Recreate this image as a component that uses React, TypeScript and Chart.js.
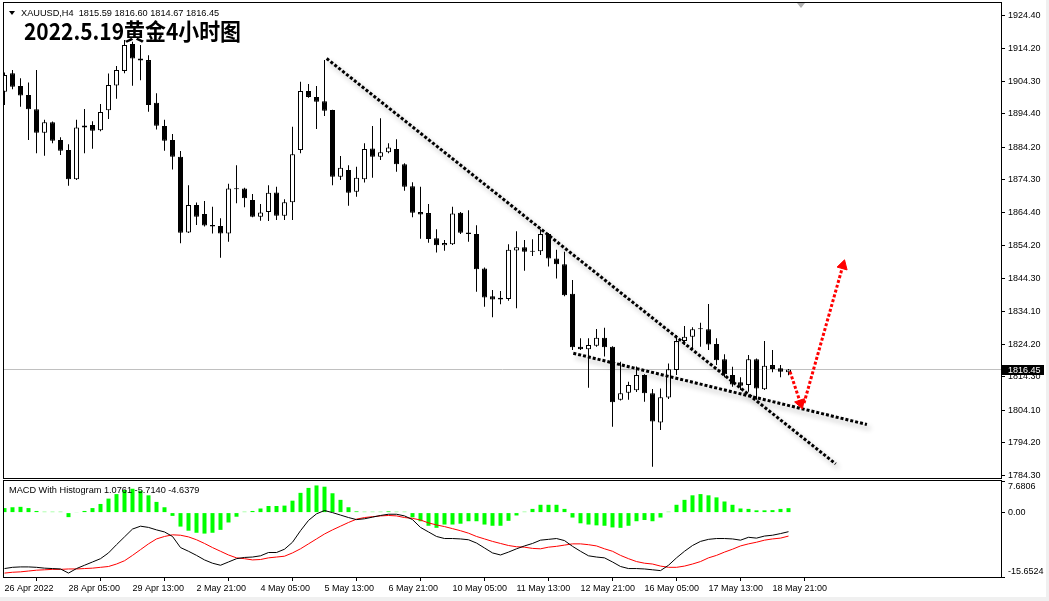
import React, { useEffect, useRef } from "react";
import { Chart, registerables } from "chart.js";

Chart.register(...registerables);

// ---------- price data (XAUUSD H4) ----------
const opens = [
  1901.1, 1906.7, 1902.8, 1900.1, 1895.7, 1888.6, 1891.8, 1886.4, 1883.3, 1874.4,
  1890.2, 1890.9, 1889.3, 1895.4, 1903.0, 1907.4, 1915.6, 1911.2, 1910.7, 1897.7,
  1890.6, 1886.4, 1881.3, 1858.2, 1866.6, 1863.8, 1860.5, 1860.2, 1857.9, 1871.4,
  1871.6, 1868.1, 1863.0, 1864.4, 1870.4, 1863.3, 1867.4, 1883.3, 1901.3, 1899.5,
  1898.2, 1895.5, 1875.2, 1877.2, 1870.6, 1874.4, 1883.8, 1881.3, 1882.6, 1883.6,
  1879.0, 1872.3, 1864.4, 1864.1, 1856.4, 1854.3, 1854.6, 1864.2, 1858.2, 1857.7,
  1847.2, 1838.8, 1838.3, 1837.9, 1852.7, 1853.7, 1852.3, 1852.5, 1857.7, 1850.3,
  1848.5, 1839.5, 1823.4, 1822.6, 1823.7, 1826.1, 1823.4, 1807.2, 1809.4, 1810.1,
  1814.8, 1809.2, 1800.3, 1807.9, 1816.3, 1825.1, 1826.4, 1828.7, 1828.7, 1824.2,
  1819.6, 1814.8, 1812.6, 1811.7, 1819.6, 1810.4, 1817.8, 1816.8, 1815.59,
];
const highs = [
  1906.9, 1907.7, 1905.2, 1903.9, 1907.7, 1892.5, 1892.0, 1887.2, 1885.1, 1892.5,
  1895.8, 1892.1, 1897.3, 1906.6, 1908.9, 1916.8, 1916.3, 1915.3, 1912.2, 1900.6,
  1892.5, 1888.2, 1883.0, 1872.6, 1867.3, 1867.8, 1866.0, 1862.5, 1873.0, 1878.7,
  1871.8, 1869.9, 1866.9, 1872.6, 1872.1, 1868.3, 1890.4, 1904.1, 1903.4, 1902.8,
  1910.7, 1895.6, 1881.5, 1878.7, 1878.2, 1885.4, 1890.6, 1893.0, 1885.4, 1886.6,
  1879.3, 1873.5, 1872.1, 1866.9, 1859.2, 1855.9, 1866.0, 1864.4, 1865.0, 1860.4,
  1847.5, 1840.7, 1840.4, 1854.6, 1858.6, 1855.9, 1856.1, 1859.2, 1858.0, 1852.9,
  1852.3, 1843.7, 1826.0, 1826.0, 1828.8, 1829.2, 1823.5, 1818.8, 1812.7, 1817.4,
  1815.0, 1810.5, 1810.7, 1818.3, 1827.0, 1829.7, 1829.3, 1830.7, 1836.4, 1826.0,
  1821.1, 1817.3, 1814.1, 1820.9, 1819.8, 1825.1, 1822.4, 1817.8, 1816.6,
];
const lows = [
  1897.0, 1901.8, 1896.5, 1886.4, 1882.3, 1881.6, 1885.4, 1881.8, 1872.4, 1874.2,
  1882.3, 1883.7, 1889.0, 1892.8, 1898.9, 1906.7, 1902.9, 1904.6, 1895.0, 1889.6,
  1883.1, 1877.4, 1854.9, 1858.0, 1860.5, 1860.0, 1857.9, 1850.5, 1855.4, 1867.1,
  1865.9, 1862.8, 1861.8, 1861.7, 1862.0, 1862.0, 1862.0, 1882.3, 1899.2, 1889.7,
  1893.7, 1872.6, 1874.2, 1866.3, 1869.1, 1873.4, 1874.9, 1880.3, 1882.3, 1876.7,
  1870.9, 1862.8, 1856.3, 1855.1, 1852.1, 1852.6, 1854.4, 1857.7, 1855.4, 1840.1,
  1835.6, 1832.4, 1836.3, 1837.4, 1835.1, 1846.5, 1851.0, 1851.3, 1847.8, 1844.2,
  1838.8, 1822.4, 1822.4, 1810.9, 1823.4, 1820.4, 1799.0, 1807.0, 1807.2, 1809.6,
  1806.6, 1786.8, 1798.0, 1807.5, 1814.8, 1823.9, 1822.4, 1823.4, 1822.4, 1817.8,
  1814.1, 1811.2, 1810.2, 1809.7, 1807.2, 1810.2, 1815.6, 1814.1, 1814.67,
];
const closes = [
  1906.2, 1902.6, 1899.9, 1895.7, 1888.6, 1891.8, 1886.1, 1883.1, 1874.4, 1890.2,
  1890.8, 1889.2, 1894.9, 1903.1, 1907.7, 1915.3, 1911.2, 1910.6, 1897.0, 1890.7,
  1886.1, 1881.3, 1858.1, 1866.6, 1863.0, 1860.3, 1860.0, 1857.9, 1871.6, 1871.6,
  1868.6, 1863.0, 1864.3, 1870.3, 1863.3, 1867.4, 1882.0, 1901.3, 1899.5, 1898.0,
  1895.3, 1875.2, 1877.9, 1870.3, 1874.9, 1883.6, 1881.3, 1882.6, 1884.1, 1879.0,
  1872.1, 1864.2, 1863.7, 1856.2, 1854.3, 1855.0, 1864.0, 1858.1, 1857.7, 1847.0,
  1838.4, 1837.8, 1837.8, 1852.9, 1853.7, 1852.3, 1852.5, 1857.7, 1850.3, 1848.5,
  1839.1, 1823.2, 1822.6, 1823.9, 1826.1, 1823.2, 1806.5, 1809.2, 1811.7, 1814.8,
  1809.2, 1800.6, 1808.0, 1816.5, 1825.1, 1826.4, 1828.7, 1828.9, 1824.1, 1819.3,
  1815.0, 1811.9, 1811.5, 1819.6, 1810.7, 1817.6, 1816.6, 1815.8, 1816.45,
];

// ---------- MACD With Histogram ----------
const macdMain = [
  -13.6, -13.3, -13.2, -13.2, -13.3, -13.5, -13.6, -13.7, -14.7, -13.6,
  -12.8, -12.0, -11.2, -9.8, -7.8, -5.9, -4.0, -3.3, -3.6, -4.2,
  -4.7, -5.8, -8.5, -9.4, -10.4, -11.5, -12.3, -12.8, -12.0, -11.2,
  -10.9, -10.8, -10.5, -9.7, -9.7, -8.9, -7.2, -4.4, -1.9, -0.3,
  0.5, 0.0, -0.6, -1.2, -1.7, -1.5, -1.1, -0.7, -0.4, -0.4,
  -0.8, -1.7, -3.6, -4.7, -5.8, -6.3, -6.3, -6.4, -6.6, -7.4,
  -8.6, -9.8, -10.3, -9.6, -8.8, -8.1, -7.5, -6.7, -6.5, -6.3,
  -6.8, -8.2, -9.4, -10.5, -10.8, -11.0, -12.0, -13.1, -13.6, -13.6,
  -13.7, -13.9, -14.1, -12.8, -11.0, -9.4, -8.0, -7.0, -6.5, -6.3,
  -6.3, -6.4, -6.7, -6.0, -6.2, -5.7, -5.5, -5.1, -4.64,
];
const macdSignal = [
  -14.7, -14.5, -14.4, -14.2, -14.0, -13.9, -13.8, -13.8, -13.7, -13.7,
  -13.6, -13.5, -13.3, -13.1, -12.5, -11.7, -10.4, -9.0, -7.6, -6.4,
  -5.8, -5.4, -5.5, -5.9, -6.6, -7.5, -8.5, -9.4, -10.3, -11.0,
  -11.2, -11.5, -11.4, -11.0, -10.8, -10.6, -9.8, -8.8, -7.6, -6.4,
  -5.2, -4.2, -3.3, -2.4, -1.6, -1.2, -1.0, -0.8, -0.7, -0.8,
  -1.2, -1.4, -1.8, -2.5, -3.0, -3.4, -3.9, -4.4, -5.0, -5.8,
  -6.4, -7.0, -7.5, -8.0, -8.3, -8.4, -8.7, -8.8, -8.4, -8.2,
  -7.9, -7.6, -7.6, -7.8, -8.1, -8.8, -9.4, -10.4, -11.2, -11.9,
  -12.3, -12.5, -13.0, -13.3, -13.3, -13.0, -12.5, -11.9, -11.0, -10.4,
  -9.6, -8.9, -8.1, -7.6, -7.2, -6.7, -6.4, -6.2, -5.71,
];
const macdHist = [
  1.1, 1.3, 1.4, 1.1, 0.4, 0.2, 0.2, 0.2, -1.1, 0.1,
  0.4, 1.1, 2.1, 3.4, 4.5, 5.5, 5.8, 5.3, 4.2, 2.6,
  1.3, -0.8, -3.4, -4.4, -4.9, -5.1, -4.9, -4.2, -2.4, -1.0,
  0.2, 0.4, 1.0, 1.6, 1.6, 1.7, 2.9, 4.8, 6.0, 6.6,
  6.3, 4.7, 3.1, 1.3, 0.3, 0.2, 0.2, 0.2, 0.3, 0.2,
  0.2, -1.15, -2.1, -3.2, -3.7, -2.9, -2.9, -2.7, -2.1, -2.1,
  -2.9, -3.2, -3.2, -2.0, -0.7, 0.2, 0.9, 1.9, 1.9, 1.9,
  0.9, -1.2, -2.6, -2.9, -3.1, -3.2, -3.6, -3.7, -3.2, -2.1,
  -1.8, -2.1, -1.2, 0.2, 1.9, 3.1, 4.2, 4.5, 4.2, 3.7,
  2.7, 1.9, 1.0, 0.9, 0.55, 0.55, 0.6, 0.9, 1.08,
];

// ---------- axes ----------
const priceTicks = [
  1924.4, 1914.2, 1904.3, 1894.4, 1884.2, 1874.3, 1864.4, 1854.2,
  1844.3, 1834.1, 1824.2, 1814.3, 1804.1, 1794.2, 1784.3,
];
const priceRange = [1783.4, 1928.1];
const barRange = [-0.0625, 124.5625];
const timeTickIndex = [0, 8, 16, 24, 32, 40, 48, 56, 64, 72, 80, 88, 96];
const timeLabels = [
  "26 Apr 2022", "28 Apr 05:00", "29 Apr 13:00", "2 May 21:00", "4 May 05:00",
  "5 May 13:00", "6 May 21:00", "10 May 05:00", "11 May 13:00", "12 May 21:00",
  "16 May 05:00", "17 May 13:00", "18 May 21:00",
];
const macdRange = [-15.6524, 7.6806];
const macdTicks = [7.6806, 0, -15.6524];
const macdTickLabels = ["7.6806", "0.00", "-15.6524"];
const lastPrice = 1816.45;

// ---------- drawn objects (bar index, price) ----------
const trendLineA = [{ x: 40.27, y: 1911.2 }, { x: 103.9, y: 1787.7 }];
const trendLineB = [{ x: 71.1, y: 1821.4 }, { x: 107.8, y: 1799.7 }];
const arrowDown = [{ x: 98.19, y: 1815.8 }, { x: 99.5, y: 1806.2 }];
const arrowUp = [{ x: 99.94, y: 1806.2 }, { x: 104.8, y: 1848.1 }];

const AXIS_FONT = { family: "'Liberation Sans', Arial, sans-serif", size: 9 };

const framePlugin = {
  id: "mtFrame",
  beforeDraw(chart: any) {
    const ctx = chart.ctx;
    ctx.save();
    ctx.fillStyle = "#ffffff";
    ctx.fillRect(0, 0, chart.width, chart.height);
    ctx.restore();
  },
  afterDraw(chart: any) {
    const { left, top, right, bottom } = chart.chartArea;
    const ctx = chart.ctx;
    ctx.save();
    ctx.strokeStyle = "#000000";
    ctx.lineWidth = 1;
    ctx.strokeRect(left - 0.5, top - 0.5, right - left + 1, bottom - top + 1);
    ctx.restore();
  },
};

const shadowPlugin = {
  id: "trendShadow",
  beforeDatasetDraw(chart: any, args: any) {
    const ds = chart.data.datasets[args.index];
    if (ds && ds.label && ds.label.startsWith("trend")) {
      const ctx = chart.ctx;
      ctx.save();
      ctx.shadowColor = "rgba(0,0,0,0.30)";
      ctx.shadowBlur = 5;
      ctx.shadowOffsetX = 3;
      ctx.shadowOffsetY = 4;
    }
  },
  afterDatasetDraw(chart: any, args: any) {
    const ds = chart.data.datasets[args.index];
    if (ds && ds.label && ds.label.startsWith("trend")) {
      chart.ctx.restore();
    }
  },
};

const priceBoxPlugin = {
  id: "priceBox",
  afterDraw(chart: any) {
    const ctx = chart.ctx;
    const y = Math.round(chart.scales.y.getPixelForValue(lastPrice));
    const x0 = chart.chartArea.right + 1;
    ctx.save();
    ctx.fillStyle = "#000000";
    ctx.fillRect(x0, y - 5, 42, 10);
    ctx.fillStyle = "#ffffff";
    ctx.font = "9px 'Liberation Sans', Arial, sans-serif";
    ctx.textBaseline = "middle";
    ctx.textAlign = "left";
    ctx.fillText(lastPrice.toFixed(2), x0 + 6, y + 0.5);
    ctx.restore();
  },
};

function arrowRotation(c: any) {
  const d = c.dataset.data;
  const xs = c.chart.scales.x;
  const ys = c.chart.scales.y;
  const dx = xs.getPixelForValue(d[1].x) - xs.getPixelForValue(d[0].x);
  const dy = ys.getPixelForValue(d[1].y) - ys.getPixelForValue(d[0].y);
  return (Math.atan2(dx, -dy) * 180) / Math.PI;
}

function dotted(label: string, data: any[], color: string, order: number): any {
  return {
    type: "line",
    label,
    data,
    borderColor: color,
    borderWidth: 3,
    borderDash: [3, 2],
    borderCapStyle: "butt",
    pointRadius: 0,
    order,
  };
}

function arrow(label: string, data: any[]): any {
  return {
    ...dotted(label, data, "#ff0000", 1),
    pointRadius: [0, 6],
    pointStyle: "triangle",
    pointBackgroundColor: "#ff0000",
    pointBorderColor: "#ff0000",
    pointBorderWidth: 1,
    pointRotation: arrowRotation,
  };
}

function mainConfig(): any {
  const idx = opens.map((_, i) => i);
  const up = (i: number) => closes[i] >= opens[i];
  return {
    type: "bar",
    data: {
      datasets: [
        {
          type: "line",
          label: "last",
          data: [
            { x: barRange[0], y: lastPrice },
            { x: barRange[1], y: lastPrice },
          ],
          borderColor: "#c0c0c0",
          borderWidth: 1,
          pointRadius: 0,
          order: 10,
        },
        {
          type: "bar",
          label: "wick",
          data: idx.map((i) => ({ x: i, y: [lows[i], highs[i]] })),
          backgroundColor: "#000000",
          borderWidth: 0,
          barThickness: 1,
          inflateAmount: 0,
          order: 6,
        },
        {
          type: "bar",
          label: "body",
          data: idx.map((i) => ({ x: i, y: [opens[i], closes[i]] })),
          backgroundColor: (c: any) => (up(c.dataIndex) ? "#ffffff" : "#000000"),
          borderColor: "#000000",
          borderWidth: 1,
          borderSkipped: false,
          barThickness: 5,
          minBarLength: 1,
          inflateAmount: 0,
          order: 5,
        },
        dotted("trendA", trendLineA, "#000000", 3),
        dotted("trendB", trendLineB, "#000000", 3),
        arrow("arrowDown", arrowDown),
        arrow("arrowUp", arrowUp),
      ],
    },
    options: {
      animation: false,
      responsive: false,
      maintainAspectRatio: false,
      events: [],
      layout: { autoPadding: false, padding: { left: 4, top: 3, right: 0, bottom: 3 } },
      plugins: { legend: { display: false }, tooltip: { enabled: false } },
      scales: {
        x: {
          type: "linear",
          min: barRange[0],
          max: barRange[1],
          offset: false,
          stacked: true,
          display: false,
        },
        y: {
          position: "right",
          min: priceRange[0],
          max: priceRange[1],
          stacked: false,
          afterBuildTicks: (s: any) => {
            s.ticks = priceTicks.map((v) => ({ value: v }));
          },
          afterFit: (s: any) => {
            s.width = 48;
            s.paddingTop = 0;
            s.paddingBottom = 0;
          },
          ticks: {
            callback: (v: any) => Number(v).toFixed(2),
            font: AXIS_FONT,
            color: "#000000",
            padding: 3,
            autoSkip: false,
          },
          grid: { drawOnChartArea: false, drawTicks: true, tickLength: 4, color: "#000000" },
          border: { display: false },
        },
      },
    },
    plugins: [framePlugin, shadowPlugin, priceBoxPlugin],
  };
}

function macdConfig(): any {
  return {
    type: "bar",
    data: {
      datasets: [
        {
          type: "line",
          label: "macd",
          data: macdMain.map((v, i) => ({ x: i, y: v })),
          borderColor: "#000000",
          borderWidth: 1,
          pointRadius: 0,
          order: 1,
        },
        {
          type: "line",
          label: "signal",
          data: macdSignal.map((v, i) => ({ x: i, y: v })),
          borderColor: "#ff0000",
          borderWidth: 1,
          pointRadius: 0,
          order: 2,
        },
        {
          type: "bar",
          label: "hist",
          data: macdHist.map((v, i) => ({ x: i, y: v })),
          backgroundColor: "#00ff00",
          borderWidth: 0,
          barThickness: 4,
          inflateAmount: 0,
          order: 3,
        },
      ],
    },
    options: {
      animation: false,
      responsive: false,
      maintainAspectRatio: false,
      events: [],
      layout: { autoPadding: false, padding: { left: 4, top: 2, right: 0, bottom: 0 } },
      plugins: { legend: { display: false }, tooltip: { enabled: false } },
      scales: {
        x: {
          type: "linear",
          position: "bottom",
          min: barRange[0],
          max: barRange[1],
          offset: false,
          afterBuildTicks: (s: any) => {
            s.ticks = timeTickIndex.map((v) => ({ value: v }));
          },
          afterFit: (s: any) => {
            s.height = 24;
            s.paddingLeft = 0;
            s.paddingRight = 0;
          },
          ticks: {
            callback: (_v: any, i: number) => timeLabels[i],
            align: "start",
            maxRotation: 0,
            minRotation: 0,
            autoSkip: false,
            font: AXIS_FONT,
            color: "#000000",
            padding: 2,
          },
          grid: { drawOnChartArea: false, drawTicks: true, tickLength: 4, color: "#000000" },
          border: { display: false },
        },
        y: {
          position: "right",
          min: macdRange[0],
          max: macdRange[1],
          afterBuildTicks: (s: any) => {
            s.ticks = macdTicks.map((v) => ({ value: v }));
          },
          afterFit: (s: any) => {
            s.width = 48;
            s.paddingTop = 0;
            s.paddingBottom = 0;
          },
          ticks: {
            callback: (v: any, i: number) => {
              const t = macdTickLabels[i];
              if (v === macdRange[1]) return ["", t];
              if (v === macdRange[0]) return [t, ""];
              return t;
            },
            font: AXIS_FONT,
            color: "#000000",
            padding: 3,
            autoSkip: false,
          },
          grid: { drawOnChartArea: false, drawTicks: true, tickLength: 4, color: "#000000" },
          border: { display: false },
        },
      },
    },
    plugins: [framePlugin],
  };
}

export default function App() {
  const mainRef = useRef<HTMLCanvasElement>(null);
  const macdRef = useRef<HTMLCanvasElement>(null);

  useEffect(() => {
    const main = new Chart(mainRef.current as HTMLCanvasElement, mainConfig());
    const macd = new Chart(macdRef.current as HTMLCanvasElement, macdConfig());
    return () => {
      main.destroy();
      macd.destroy();
    };
  }, []);

  const small: React.CSSProperties = {
    position: "absolute",
    fontFamily: "'Liberation Sans', Arial, sans-serif",
    fontSize: 9.2,
    lineHeight: "9px",
    color: "#000",
    whiteSpace: "pre",
  };

  return (
    <div
      style={{
        position: "fixed",
        left: 0,
        top: 0,
        width: 1049,
        height: 601,
        background: "#ffffff",
        overflow: "hidden",
      }}
    >
      <canvas
        ref={mainRef}
        width={1049}
        height={481}
        style={{ position: "absolute", left: 0, top: 0, width: 1049, height: 481 }}
      />
      <canvas
        ref={macdRef}
        width={1049}
        height={122}
        style={{ position: "absolute", left: 0, top: 479, width: 1049, height: 122 }}
      />
      <div
        style={{
          position: "absolute",
          left: 9,
          top: 11,
          width: 0,
          height: 0,
          borderLeft: "3px solid transparent",
          borderRight: "3px solid transparent",
          borderTop: "4px solid #000",
        }}
      />
      <div
        style={{
          position: "absolute",
          left: 797,
          top: 3,
          width: 0,
          height: 0,
          borderLeft: "4px solid transparent",
          borderRight: "4px solid transparent",
          borderTop: "5px solid #b0b0b0",
        }}
      />
      <div style={{ ...small, left: 21, top: 9 }}>XAUUSD,H4  1815.59 1816.60 1814.67 1816.45</div>
      <div
        style={{
          position: "absolute",
          left: 24,
          top: 19,
          fontFamily: "'Noto Sans CJK SC', 'Liberation Sans', sans-serif",
          fontWeight: 700,
          fontSize: 23,
          lineHeight: "23px",
          color: "#000",
          whiteSpace: "pre",
          transform: "scaleX(0.91)",
          transformOrigin: "0 0",
        }}
      >
        2022.5.19黄金4小时图
      </div>
      <div style={{ ...small, left: 9, top: 485.6 }}>MACD With Histogram 1.0761 -5.7140 -4.6379</div>
      <div style={{ position: "absolute", left: 0, top: 597, width: 1049, height: 4, background: "#f0f0f0" }} />
      <div style={{ position: "absolute", left: 1046, top: 0, width: 3, height: 601, background: "#f0f0f0" }} />
    </div>
  );
}
